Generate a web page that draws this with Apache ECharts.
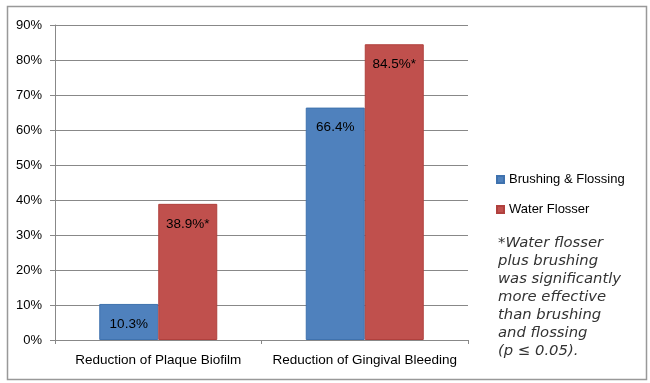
<!DOCTYPE html>
<html><head><meta charset="utf-8">
<script src="https://cdn.jsdelivr.net/npm/echarts@6/dist/echarts.min.js"></script>
<style>html,body{margin:0;padding:0;background:#fff}#c{width:650px;height:383px}</style>
</head><body><div id="c"></div>
<script>
const categories = ['Reduction of Plaque Biofilm', 'Reduction of Gingival Bleeding'];
const brushingFlossing = [10.3, 66.4];
const waterFlosser = [38.9, 84.5];
const brushingLabels = ['10.3%', '66.4%'];
const waterLabels = ['38.9%*', '84.5%*'];
const yTicks = [0, 10, 20, 30, 40, 50, 60, 70, 80, 90];
const footnote = ['*Water flosser', 'plus brushing', 'was significantly', 'more effective', 'than brushing', 'and flossing', '(p \u2264 0.05).'];

const chart = echarts.init(document.getElementById('c'));
const font = '"Liberation Sans", Arial, sans-serif';
chart.setOption({
  animation: false,
  backgroundColor: '#fff',
  grid: { left: 55, right: 182, top: 25, bottom: 43 },
  legend: {
    orient: 'vertical', left: 491, top: 168, itemWidth: 7, itemHeight: 7, itemGap: 17,
    icon: 'rect',
    textStyle: { fontFamily: font, fontSize: 13, color: '#000' },
    data: ['Brushing & Flossing', 'Water Flosser']
  },
  xAxis: {
    type: 'category', data: categories,
    axisLine: { lineStyle: { color: '#888', width: 1 } },
    axisTick: { show: true, length: 4, lineStyle: { color: '#888' } },
    axisLabel: { fontFamily: font, fontSize: 13.5, color: '#000', margin: 13, interval: 0, hideOverlap: false }
  },
  yAxis: {
    type: 'value', min: 0, max: 90, interval: 10,
    axisLine: { show: true, lineStyle: { color: '#888', width: 1 } },
    axisTick: { show: true, length: 5, lineStyle: { color: '#888' } },
    axisLabel: { fontFamily: font, fontSize: 13, color: '#000', margin: 13,
      formatter: v => yTicks.includes(v) ? v + '%' : '' },
    splitLine: { lineStyle: { color: '#888', width: 1 } }
  },
  series: [
    { name: 'Brushing & Flossing', type: 'bar', data: brushingFlossing,
      barWidth: 59, barGap: '0%',
      itemStyle: { color: '#4F81BD', borderColor: '#3F72AE', borderWidth: 1 },
      label: { show: true, position: 'insideTop', distance: 13, fontFamily: font, fontSize: 13.5, color: '#000',
        formatter: p => brushingLabels[p.dataIndex] } },
    { name: 'Water Flosser', type: 'bar', data: waterFlosser,
      barWidth: 59,
      itemStyle: { color: '#C0504D', borderColor: '#B0403D', borderWidth: 1 },
      label: { show: true, position: 'insideTop', distance: 13, fontFamily: font, fontSize: 13.5, color: '#000',
        formatter: p => waterLabels[p.dataIndex] } }
  ],
  graphic: [
    { type: 'rect', left: 5, top: 4, shape: { width: 639, height: 373 },
      style: { fill: 'none', stroke: '#999', lineWidth: 1.5 }, silent: true },
    { type: 'text', left: 498, top: 234,
      style: { text: footnote.join('\n'), fontFamily: '"DejaVu Sans", sans-serif', fontStyle: 'italic', fontWeight: 'normal',
        fontSize: 14.8, lineHeight: 18, fill: '#333' } }
  ]
});
</script></body></html>
